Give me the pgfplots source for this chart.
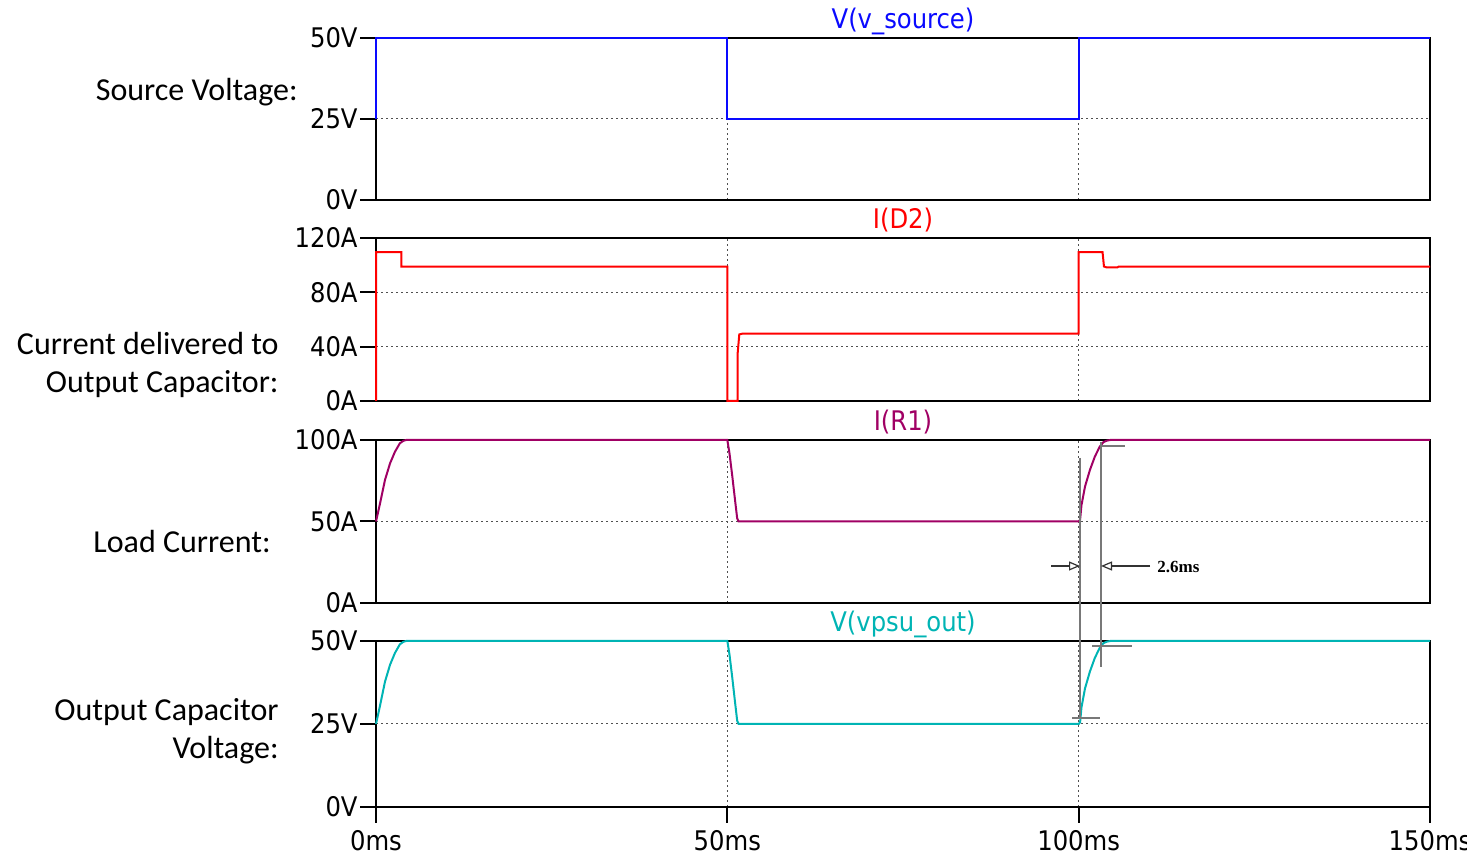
\documentclass[border=0pt]{standalone}
\usepackage{pgfplots}
\pgfplotsset{compat=1.18}
\usepackage{fontspec}
\usetikzlibrary{arrows.meta}
\newfontfamily\tickfont{DejaVu Sans Condensed}
\newfontfamily\labfont{Carlito}
\newfontfamily\annfont{Liberation Serif}
\definecolor{cblue}{RGB}{10,10,255}
\definecolor{cred}{RGB}{255,0,0}
\definecolor{cpurple}{RGB}{160,0,100}
\definecolor{cteal}{RGB}{0,180,180}
\definecolor{gridgray}{RGB}{80,80,80}
\definecolor{curgray}{RGB}{120,120,120}
\pgfplotsset{
  ltspice/.style={
    scale only axis, width=527pt, anchor=south west,
    xmin=0, xmax=150, xtick={0,50,100,150},
    grid=major,
    major grid style={gridgray, line width=0.5pt, dash pattern=on 1pt off 1.5pt},
    axis line style={line width=1pt},
    tick style={line width=1pt, black},
    tick align=outside, major tick length=8pt, tick pos=left,
    ticklabel style={font=\tickfont\fontsize{13.5pt}{15pt}\selectfont},
    yticklabel style={inner xsep=1pt},
    clip=false,
    every axis plot/.append style={line width=1pt},
  },
  upper/.style={xticklabels={}, xtick style={draw=none}},
}
\tikzset{ttl/.style={anchor=base, inner sep=0pt, yshift=4.5pt, font=\tickfont\fontsize{13.5pt}{15pt}\selectfont}}
\begin{document}
\begin{tikzpicture}
\useasboundingbox (0,0) rectangle (733.5pt,427.5pt);
% Panel 1
\begin{axis}[ltspice, upper, at={(188pt,327.5pt)}, height=81pt,
  ymin=0, ymax=50, ytick={0,25,50}, yticklabels={0V,25V,50V}]
\addplot[cblue] coordinates {(0,25) (0,50) (50,50) (50,25) (100,25) (100,50) (150,50)};
\node[ttl, text=cblue] at (rel axis cs:0.5,1) {V(v\_source)};
\end{axis}
% Panel 2
\begin{axis}[ltspice, upper, at={(188pt,227pt)}, height=81.5pt,
  ymin=0, ymax=120, ytick={0,40,80,120}, yticklabels={0A,40A,80A,120A}]
\addplot[cred] coordinates {(0,0) (0,109.5) (3.6,109.5) (3.6,99) (50,99) (50,0) (51.45,0) (51.45,34) (51.7,49) (52.1,49.5) (100,49.5) (100,109.5) (103.4,109.5) (103.6,99) (104,98.3) (105.5,98.3) (105.7,99) (150,99)};
\node[ttl, text=cred] at (rel axis cs:0.5,1) {I(D2)};
\end{axis}
% Panel 3
\begin{axis}[ltspice, upper, at={(188pt,126pt)}, height=81.5pt,
  ymin=0, ymax=100, ytick={0,50,100}, yticklabels={0A,50A,100A}]
\addplot[cpurple] coordinates {(0,50) (0.57,61) (1.28,75.5) (2.0,85.7) (2.7,92.8) (3.4,98) (3.9,99.5) (4.3,100) (50,100) (50.3,92) (50.7,78) (51.1,63) (51.4,52) (51.6,50) (100,50) (100.2,51) (100.4,60) (100.9,71.4) (101.6,81.6) (102.3,89.8) (103.0,95.9) (103.5,98.6) (104,99.6) (104.5,100) (150,100)};
\node[ttl, text=cpurple] at (rel axis cs:0.5,1) {I(R1)};
\end{axis}
% Panel 4
\begin{axis}[ltspice, at={(188pt,24pt)}, height=83pt,
  ymin=0, ymax=50, ytick={0,25,50}, yticklabels={0V,25V,50V},
  xticklabels={0ms,50ms,100ms,150ms}]
\addplot[cteal] coordinates {(0,25) (0.57,30.5) (1.28,37.75) (2.0,42.85) (2.7,46.4) (3.4,49) (3.9,49.75) (4.3,50) (50,50) (50.3,46) (50.7,39) (51.1,31.5) (51.4,26) (51.6,25) (100,25) (100.2,25.5) (100.4,30) (100.9,35.7) (101.6,40.8) (102.3,44.9) (103.0,47.95) (103.5,49.3) (104,49.8) (104.5,50) (150,50)};
\node[ttl, text=cteal] at (rel axis cs:0.5,1) {V(vpsu\_out)};
\end{axis}
% cursors
\draw[curgray, line width=0.8pt] (540pt,198.5pt) -- (540pt,68.5pt);
\draw[curgray, line width=0.8pt] (550.5pt,206.5pt) -- (550.5pt,94pt);
\draw[curgray, line width=0.8pt] (550.5pt,204.5pt) -- (562.5pt,204.5pt);
\draw[curgray, line width=0.8pt] (546pt,104.5pt) -- (566pt,104.5pt);
\draw[curgray, line width=0.8pt] (536pt,68.5pt) -- (550pt,68.5pt);
\draw[black!80, line width=0.6pt, -{Triangle[open, length=5.5pt, width=4.5pt]}] (525.5pt,144.5pt) -- (540pt,144.5pt);
\draw[black!80, line width=0.6pt, -{Triangle[open, length=5.5pt, width=4.5pt]}] (575pt,144.5pt) -- (550.5pt,144.5pt);
\node[anchor=west, inner sep=0pt, font=\annfont\bfseries\fontsize{8.5pt}{10pt}\selectfont] at (578.5pt,144pt) {2.6ms};
% left labels
\begin{scope}[every node/.style={anchor=base east, inner sep=0pt, font=\labfont\fontsize{16pt}{18pt}\selectfont}]
\node at (149pt,377pt) {Source Voltage:};
\node at (139.5pt,250pt) {Current delivered to};
\node at (139.5pt,231pt) {Output Capacitor:};
\node at (135.5pt,151pt) {Load Current:};
\node at (139.5pt,67pt) {Output Capacitor};
\node at (139.5pt,48pt) {Voltage:};
\end{scope}
\end{tikzpicture}
\end{document}
